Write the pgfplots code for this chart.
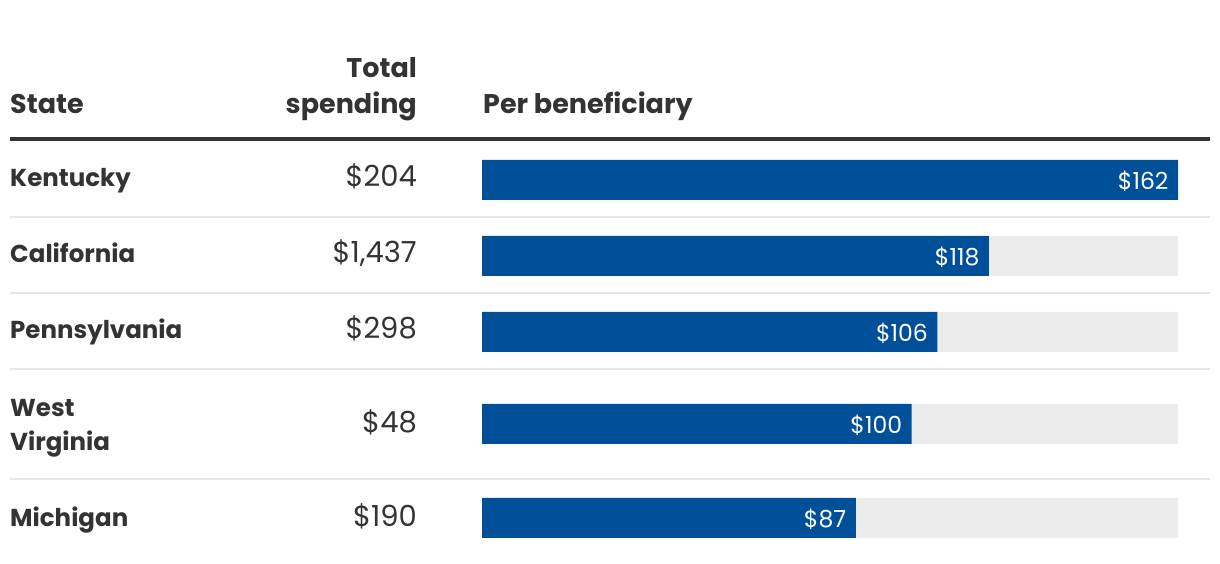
\documentclass[border=0pt]{standalone}
\usepackage{pgfplots}
\pgfplotsset{compat=1.18}
\usepackage{fontspec}
\setmainfont{Poppins}
\definecolor{txt}{HTML}{333333}
\definecolor{barblue}{HTML}{005099}
\definecolor{bargray}{HTML}{ECECEC}
\definecolor{sep}{HTML}{E6E6E6}
\begin{document}
\begin{tikzpicture}[x=1pt,y=1pt]
\path (0,0) rectangle (1220,564);
\begin{axis}[
  at={(0,0)}, anchor=south west,
  width=1220pt, height=564pt, scale only axis,
  xmin=-112.1897, xmax=171.7759, ymin=0, ymax=564,
  hide axis, clip=false,
  xbar, bar width=40, bar shift=0pt,
  /pgf/number format/assume math mode=true,
]
% background (full scale = 162)
\addplot[draw=none, fill=bargray] coordinates {(162,384) (162,308) (162,232) (162,140) (162,46)};
% per beneficiary
\addplot[draw=none, fill=barblue,
  nodes near coords={\$\pgfmathprintnumber{\pgfplotspointmeta}},
  every node near coord/.append style={anchor=east, xshift=-6pt, yshift=-1pt, text=white, font=\fontsize{23.5}{28}\selectfont},
  point meta=x]
  coordinates {(162,384) (118,308) (106,232) (100,140) (87,46)};
\end{axis}
\begin{scope}[every node/.style={inner sep=0pt, text=txt}]
\node[anchor=base west, font=\fontsize{27}{32}\selectfont\bfseries] at (10,450) {State};
\node[anchor=base east, font=\fontsize{27}{32}\selectfont\bfseries] at (417,486) {Total};
\node[anchor=base east, font=\fontsize{27}{32}\selectfont\bfseries] at (417,450) {spending};
\node[anchor=base west, font=\fontsize{27}{32}\selectfont\bfseries] at (483,450) {Per beneficiary};
\draw[txt, line width=4pt] (10,425) -- (1210,425);
\foreach \yy in {347,271,195,85} \draw[sep, line width=1.5pt] (10,\yy) -- (1210,\yy);
\foreach \name/\yy in {Kentucky/377, California/301, Pennsylvania/225, West/147, Virginia/113, Michigan/37}
  \node[anchor=base west, font=\fontsize{24.5}{29}\selectfont\bfseries] at (10,\yy) {\name};
\foreach \val/\yy in {204/377, {1,437}/301, 298/225, 48/131, 190/37}
  \node[anchor=base east, font=\fontsize{29}{34}\selectfont] at (417,\yy) {\$\val};
\end{scope}
\end{tikzpicture}
\end{document}
